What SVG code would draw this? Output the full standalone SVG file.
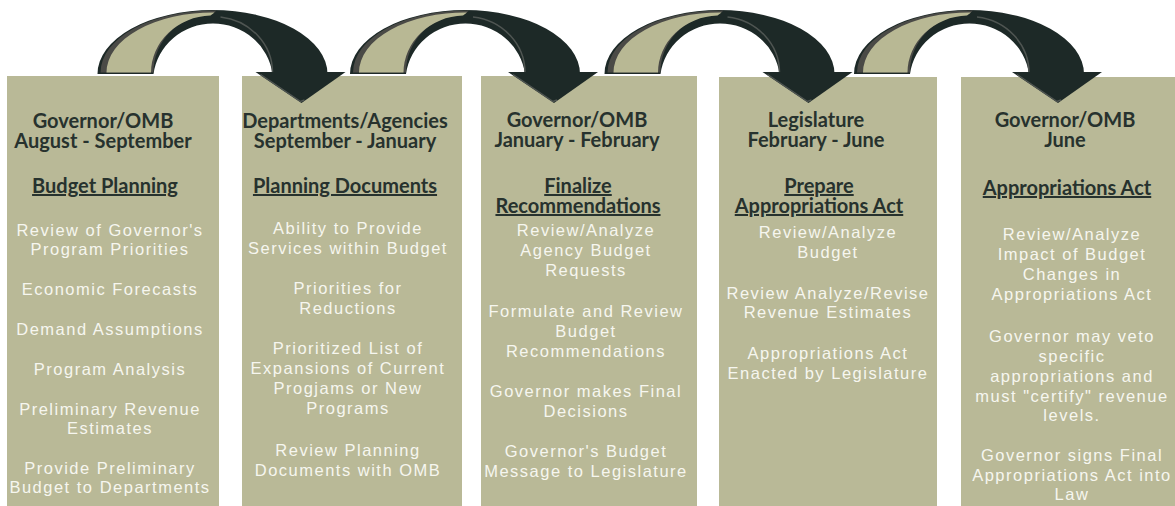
<svg xmlns="http://www.w3.org/2000/svg" width="1175" height="506" viewBox="0 0 1175 506">
  <style>
    .box { fill: #b9b997; }
    .hd { font-family: Lato, "Liberation Sans", sans-serif; font-weight: 700; font-size: 20px; fill: #27322e; text-anchor: middle; }
    .sub { text-decoration: underline; }
    .bd { font-family: "Liberation Sans", Arial, sans-serif; font-size: 16.5px; letter-spacing: 1.5px; fill: #f6f6ef; text-anchor: middle; }
    .shaft { fill: #1d2927; }
    .edge { fill: #4a4a46; }
    .band { fill: #b8b894; }
    .rim { fill: none; stroke: #4f5552; stroke-width: 1.5; }
  </style>
  <defs>
    <!-- curved 3D arrow, centred on x=0, base at y=73 -->
    <g id="curl">
      <path class="shaft" d="M-115,74 A115 64 0 0 1 115,74 L60,74 A60 58 0 0 0 -59,74 Z"/>
      <path class="edge" d="M-112,72.5 A112 62 0 0 1 4,10.6 L0,14 A60 58 0 0 0 -59,72.5 Z"/>
      <path class="band" d="M-106,72.5 A106 60 0 0 1 2,12.5 L-2,15.6 A61.5 57 0 0 0 -61.5,72.5 Z"/>
      <path class="rim" d="M8,17 A59 56 0 0 1 60,73"/>
      <polygon class="shaft" points="43,72 133,72 89,103"/>
      <polyline class="rim" points="48,74.5 88,101.5 92,100"/>
    </g>
  </defs>

  <!-- stage panels -->
  <g id="stage1"><rect class="box" x="7" y="76" width="212" height="430"/></g>
  <g id="stage2"><rect class="box" x="242" y="76" width="220" height="430"/></g>
  <g id="stage3"><rect class="box" x="481" y="76" width="216" height="430"/></g>
  <g id="stage4"><rect class="box" x="719" y="77" width="218" height="429"/></g>
  <g id="stage5"><rect class="box" x="961" y="77" width="214" height="429"/></g>

  <!-- connectors between stages -->
  <g id="connectors">
    <use href="#curl" transform="translate(212.5,0)"/>
    <use href="#curl" transform="translate(465,0)"/>
    <use href="#curl" transform="translate(719.5,0)"/>
    <use href="#curl" transform="translate(969,0)"/>
  </g>

  <!-- stage 1 text -->
  <g id="stage1-text">
    <text class="hd" x="103" y="128">Governor/OMB<tspan x="103" dy="20">August - September</tspan></text>
    <text class="hd sub" x="105" y="193">Budget Planning</text>
    <text class="bd" x="110" y="236">Review of Governor's<tspan x="110" dy="19">Program Priorities</tspan></text>
    <text class="bd" x="110" y="295">Economic Forecasts</text>
    <text class="bd" x="110" y="335">Demand Assumptions</text>
    <text class="bd" x="110" y="375">Program Analysis</text>
    <text class="bd" x="110" y="415">Preliminary Revenue<tspan x="110" dy="19">Estimates</tspan></text>
    <text class="bd" x="110" y="474">Provide Preliminary<tspan x="110" dy="19">Budget to Departments</tspan></text>
  </g>

  <!-- stage 2 text -->
  <g id="stage2-text">
    <text class="hd" x="345" y="128">Departments/Agencies<tspan x="345" dy="20">September - January</tspan></text>
    <text class="hd sub" x="345" y="193">Planning Documents</text>
    <text class="bd" x="348" y="234">Ability to Provide<tspan x="348" dy="20">Services within Budget</tspan></text>
    <text class="bd" x="348" y="294">Priorities for<tspan x="348" dy="20">Reductions</tspan></text>
    <text class="bd" x="348" y="354">Prioritized List of<tspan x="348" dy="20">Expansions of Current</tspan><tspan x="348" dy="20">Progjams or New</tspan><tspan x="348" dy="20">Programs</tspan></text>
    <text class="bd" x="348" y="456">Review Planning<tspan x="348" dy="20">Documents with OMB</tspan></text>
  </g>

  <!-- stage 3 text -->
  <g id="stage3-text">
    <text class="hd" x="577" y="127">Governor/OMB<tspan x="577" dy="20">January - February</tspan></text>
    <text class="hd sub" x="578" y="193">Finalize<tspan x="578" dy="20">Recommendations</tspan></text>
    <text class="bd" x="586" y="236">Review/Analyze<tspan x="586" dy="20">Agency Budget</tspan><tspan x="586" dy="20">Requests</tspan></text>
    <text class="bd" x="586" y="317">Formulate and Review<tspan x="586" dy="20">Budget</tspan><tspan x="586" dy="20">Recommendations</tspan></text>
    <text class="bd" x="586" y="397">Governor makes Final<tspan x="586" dy="20">Decisions</tspan></text>
    <text class="bd" x="586" y="457">Governor's Budget<tspan x="586" dy="20">Message to Legislature</tspan></text>
  </g>

  <!-- stage 4 text -->
  <g id="stage4-text">
    <text class="hd" x="816" y="127">Legislature<tspan x="816" dy="20">February - June</tspan></text>
    <text class="hd sub" x="819" y="193">Prepare<tspan x="819" dy="20">Appropriations Act</tspan></text>
    <text class="bd" x="828" y="238">Review/Analyze<tspan x="828" dy="20">Budget</tspan></text>
    <text class="bd" x="828" y="299">Review Analyze/Revise<tspan x="828" dy="19">Revenue Estimates</tspan></text>
    <text class="bd" x="828" y="359">Appropriations Act<tspan x="828" dy="20">Enacted by Legislature</tspan></text>
  </g>

  <!-- stage 5 text -->
  <g id="stage5-text">
    <text class="hd" x="1065" y="127">Governor/OMB<tspan x="1065" dy="20">June</tspan></text>
    <text class="hd sub" x="1067" y="195">Appropriations Act</text>
    <text class="bd" x="1072" y="240">Review/Analyze<tspan x="1072" dy="20">Impact of Budget</tspan><tspan x="1072" dy="20">Changes in</tspan><tspan x="1072" dy="20">Appropriations Act</tspan></text>
    <text class="bd" x="1072" y="342">Governor may veto<tspan x="1072" dy="20">specific</tspan><tspan x="1072" dy="20">appropriations and</tspan><tspan x="1072" dy="20">must "certify" revenue</tspan><tspan x="1072" dy="19">levels.</tspan></text>
    <text class="bd" x="1072" y="461">Governor signs Final<tspan x="1072" dy="20">Appropriations Act into</tspan><tspan x="1072" dy="19">Law</tspan></text>
  </g>
</svg>
